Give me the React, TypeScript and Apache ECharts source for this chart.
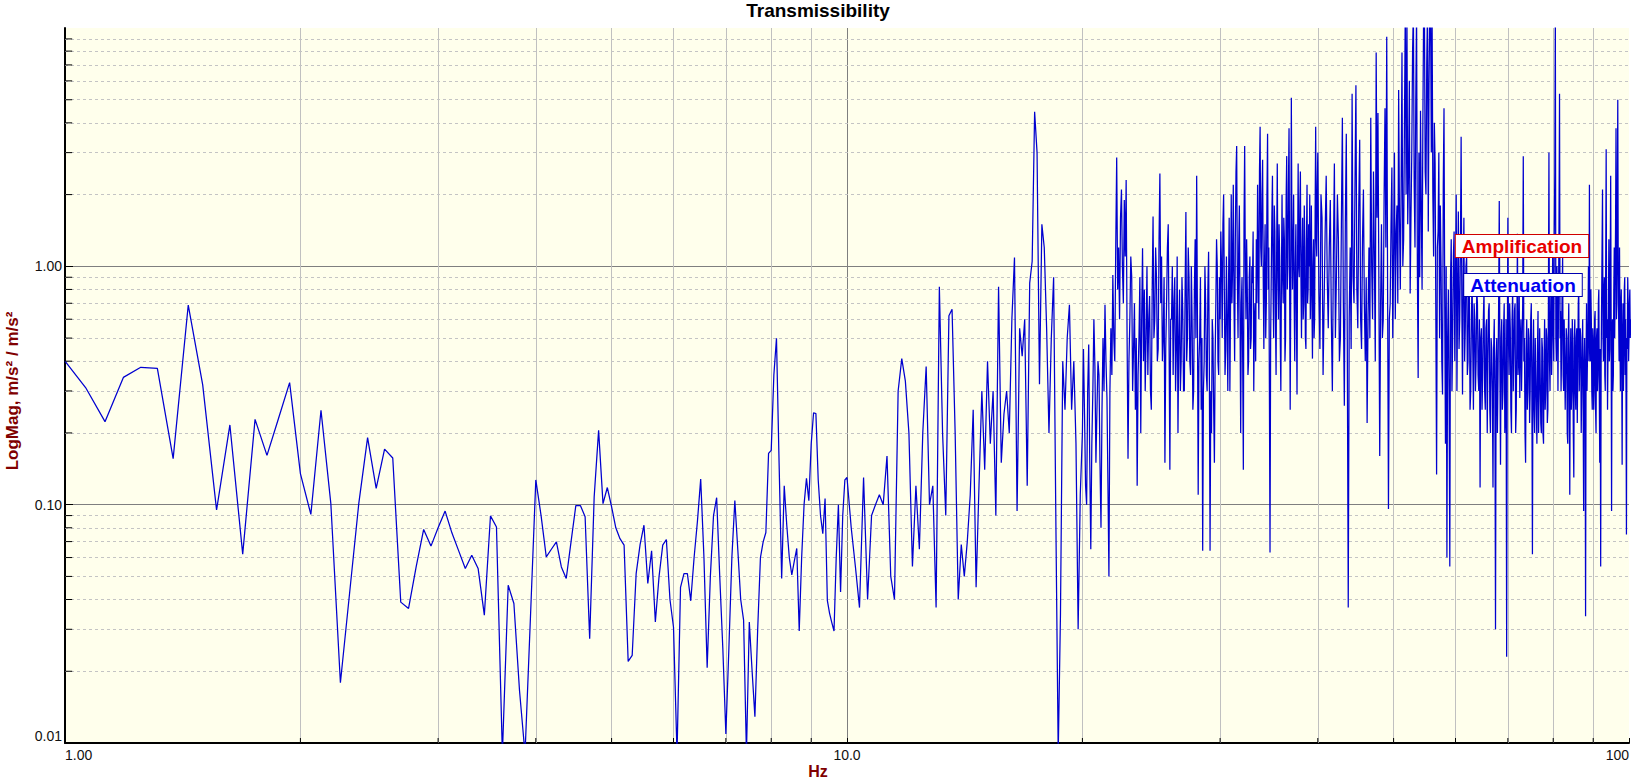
import React, { useEffect, useRef } from 'react';
import * as echarts from 'echarts';

// Spectrum bins: 1–10 Hz at 1/16 Hz resolution
const LOW_START_HZ = 1;
const LOW_STEP_HZ = 0.0625;
const magLow = [
  0.40, 0.31, 0.223, 0.342, 0.377, 0.373, 0.156, 0.688, 0.318, 0.095, 0.216, 0.062, 0.228, 0.161, 0.23, 0.325,
  0.135, 0.091, 0.249, 0.101, 0.0179, 0.043, 0.101, 0.191, 0.117, 0.171, 0.157, 0.039, 0.0367, 0.055, 0.0787, 0.067,
  0.08, 0.094, 0.076, 0.064, 0.054, 0.0614, 0.054, 0.0344, 0.0897, 0.0806, 0.009, 0.0459, 0.0385, 0.0166, 0.009, 0.0338,
  0.127, 0.09, 0.0604, 0.065, 0.0698, 0.0548, 0.049, 0.07, 0.099, 0.099, 0.089, 0.0274, 0.108, 0.205, 0.101, 0.118,
  0.098, 0.08, 0.072, 0.0676, 0.022, 0.0233, 0.0514, 0.068, 0.082, 0.0467, 0.0641, 0.0322, 0.05, 0.0676, 0.0714, 0.04,
  0.0306, 0.009, 0.045, 0.0514, 0.0514, 0.0395, 0.06, 0.085, 0.128, 0.06, 0.0207, 0.05, 0.09, 0.107, 0.05, 0.025,
  0.0109, 0.025, 0.06, 0.104, 0.065, 0.04, 0.0328, 0.009, 0.0322, 0.02, 0.0129, 0.03, 0.06, 0.0698, 0.0764, 0.164,
  0.169, 0.35, 0.499, 0.15, 0.049, 0.12, 0.082, 0.06, 0.0507, 0.058, 0.0655, 0.0295, 0.06, 0.1, 0.129, 0.104,
  0.18, 0.243, 0.241, 0.127, 0.09, 0.0756, 0.106, 0.0397, 0.035, 0.032, 0.0295, 0.06, 0.1, 0.043, 0.09, 0.127,
];

// 10–20 Hz at 1/8 Hz
const MID_START_HZ = 10;
const MID_STEP_HZ = 0.125;
const magMid = [
  0.13, 0.08, 0.055, 0.037, 0.13, 0.04, 0.09, 0.1,
  0.11, 0.1, 0.16, 0.05, 0.04, 0.3, 0.41, 0.33,
  0.2, 0.055, 0.12, 0.065, 0.2, 0.38, 0.1, 0.12,
  0.037, 0.82, 0.2, 0.09, 0.62, 0.66, 0.2, 0.04,
  0.068, 0.05, 0.07, 0.11, 0.25, 0.045, 0.12, 0.3,
  0.14, 0.4, 0.18, 0.3, 0.09, 0.82, 0.15, 0.24,
  0.3, 0.2, 0.6, 1.09, 0.094, 0.55, 0.42, 0.6,
  0.12, 0.85, 1.05, 4.45, 3.0, 0.32, 1.5, 1.2,
  0.55, 0.2, 0.5, 0.9, 0.08, 0.009, 0.035, 0.4,
  0.25, 0.5, 0.69, 0.25, 0.4, 0.18, 0.03, 0.11,
];

// 20–40 Hz at 1/16 Hz
const UPPER_START_HZ = 20;
const UPPER_STEP_HZ = 0.0625;
const magUpper = [
  0.2, 0.45, 0.24, 0.12, 0.1, 0.3, 0.47, 0.15, 0.065, 0.18, 0.3, 0.6, 0.38, 0.15, 0.25, 0.4,
  0.35, 0.15, 0.08, 0.25, 0.5, 0.3, 0.69, 0.4, 0.28, 0.12, 0.05, 0.3, 0.55, 0.35, 0.92, 0.5,
  0.4, 1.2, 2.86, 0.8, 1.2, 0.6, 1.6, 2.1, 1.0, 0.7, 1.9, 1.1, 2.3, 0.5, 0.156, 0.4,
  0.6, 1.1, 0.9, 0.3, 0.45, 0.7, 0.25, 0.5, 0.12, 0.35, 0.5, 0.9, 0.2, 0.6, 1.19, 0.4,
  0.8, 0.3, 0.5, 1.0, 0.35, 0.6, 0.75, 0.3, 0.25, 0.8, 1.62, 0.5, 0.6, 1.2, 0.9, 0.4,
  0.45, 1.3, 2.45, 0.7, 1.1, 0.4, 0.5, 0.9, 0.15, 0.45, 0.7, 1.2, 1.5, 0.5, 0.14, 0.6,
  0.6, 1.0, 0.35, 0.7, 0.9, 0.3, 0.45, 1.1, 0.2, 0.5, 0.8, 0.3, 0.4, 0.9, 0.65, 0.3,
  0.3, 0.8, 1.69, 0.4, 0.5, 1.2, 0.9, 0.4, 0.35, 1.0, 0.6, 0.25, 0.3, 0.8, 1.3, 0.5,
  2.4, 0.6, 0.11, 0.4, 0.5, 0.9, 0.25, 0.5, 0.064, 0.3, 0.4, 1.0, 0.7, 0.35, 0.3, 0.8,
  1.15, 0.4, 0.064, 0.3, 0.2, 0.6, 0.5, 0.25, 0.15, 0.4, 0.7, 1.3, 1.0, 0.4, 0.35, 0.9,
  0.6, 1.4, 1.0, 0.5, 1.5, 2.0, 0.8, 0.35, 0.45, 1.1, 0.6, 0.3, 0.8, 1.6, 0.3, 0.7,
  2.0, 0.7, 1.0, 2.2, 0.7, 0.4, 1.3, 2.5, 3.2, 0.9, 0.5, 1.2, 1.8, 0.6, 0.2, 0.7,
  0.9, 0.4, 0.14, 1.5, 3.2, 1.0, 0.6, 1.3, 0.8, 0.35, 0.4, 0.9, 1.1, 0.45, 0.5, 1.0,
  0.85, 1.4, 0.3, 0.6, 0.7, 0.4, 1.3, 0.7, 2.2, 1.0, 0.6, 2.5, 3.85, 1.2, 1.0, 2.0,
  2.8, 0.9, 0.45, 1.0, 1.5, 0.5, 0.7, 2.0, 3.6, 0.8, 1.2, 0.3, 0.063, 0.5, 0.9, 1.6,
  2.4, 0.8, 0.5, 1.8, 1.4, 0.6, 0.35, 1.2, 2.7, 0.9, 0.6, 1.5, 1.1, 0.5, 0.3, 0.9,
  2.0, 0.9, 0.7, 1.6, 1.3, 0.4, 0.5, 1.9, 2.9, 0.8, 1.0, 2.2, 3.8, 0.9, 0.25, 0.8,
  5.1, 1.5, 0.8, 1.2, 2.0, 0.7, 0.4, 1.0, 1.5, 0.6, 0.29, 1.1, 2.7, 1.0, 0.9, 1.8,
  2.5, 0.9, 0.5, 1.1, 1.6, 0.6, 0.7, 1.8, 1.2, 0.5, 0.45, 1.3, 2.2, 0.7, 0.8, 1.5,
  1.0, 2.0, 0.6, 0.9, 1.8, 0.7, 0.41, 1.0, 1.3, 0.5, 0.6, 1.7, 3.85, 1.3, 1.1, 2.2,
];

// 40–100.5 Hz at 1/8 Hz
const HIGH_START_HZ = 40;
const HIGH_STEP_HZ = 0.125;
const magHigh = [
  3.0, 0.8, 0.45, 2.0, 1.6, 0.35, 0.7, 1.4,
  2.4, 0.9, 0.55, 1.2, 1.9, 0.6, 0.3, 1.1,
  2.7, 0.5, 0.9, 2.0, 1.3, 0.4, 0.5, 1.5,
  4.2, 0.7, 0.26, 1.5, 3.6, 0.5, 0.037, 0.6,
  1.2, 0.45, 5.3, 0.9, 0.7, 2.2, 5.75, 0.8,
  0.55, 1.8, 3.4, 0.6, 0.45, 1.3, 2.1, 0.7,
  0.4, 0.9, 0.22, 0.6, 1.2, 0.5, 4.2, 1.0,
  0.6, 2.5, 1.1, 0.4, 7.9, 1.6, 4.4, 0.9,
  0.16, 0.7, 1.5, 0.5, 0.6, 2.0, 4.6, 1.2,
  9.2, 0.8, 0.096, 0.6, 0.7, 1.5, 2.6, 0.5,
  1.1, 3.0, 0.6, 1.4, 1.8, 0.7, 5.5, 1.6,
  0.8, 2.2, 7.9, 1.0, 1.3, 4.0, 12, 2.0,
  12, 1.5, 2.5, 6.0, 0.77, 1.6, 3.0, 8.0,
  12, 2.2, 1.2, 5.0, 12, 1.0, 0.34, 3.0,
  0.9, 4.5, 1.7, 0.8, 4.0, 12, 12, 2.5,
  2.0, 7.0, 12, 1.4, 6.0, 12, 12, 3.0,
  12, 2.0, 1.1, 4.0, 2.7, 0.6, 0.134, 1.2,
  1.4, 3.0, 0.5, 1.8, 1.0, 0.4, 0.29, 2.2,
  4.6, 0.7, 0.18, 1.0, 0.06, 0.5, 0.8, 0.3,
  0.055, 0.9, 1.3, 0.3, 0.5, 1.1, 1.4, 0.4,
  0.9, 2.0, 0.3, 0.8, 1.7, 0.45, 0.6, 1.2,
  3.5, 0.7, 0.29, 0.9, 1.6, 0.4, 0.55, 1.0,
  1.1, 0.35, 0.4, 0.9, 0.75, 0.25, 0.3, 0.6,
  0.9, 0.45, 0.25, 0.7, 0.6, 0.3, 0.4, 0.8,
  0.7, 0.35, 0.3, 0.6, 0.118, 0.5, 0.55, 0.25,
  0.35, 0.6, 0.8, 0.3, 0.25, 0.55, 0.6, 0.2,
  0.4, 0.65, 0.7, 0.25, 0.2, 0.5, 0.45, 0.3,
  0.118, 0.45, 0.6, 0.3, 0.03, 0.4, 0.5, 0.2,
  0.35, 0.7, 1.88, 0.4, 0.147, 0.5, 0.6, 0.25,
  0.3, 0.55, 0.7, 0.2, 0.25, 0.6, 0.023, 0.4,
  1.6, 0.5, 0.35, 0.7, 0.55, 0.25, 0.2, 0.6,
  0.8, 0.3, 0.3, 0.65, 0.7, 0.2, 0.25, 0.5,
  1.37, 0.35, 0.4, 0.8, 0.28, 0.5, 0.6, 0.3,
  0.3, 0.7, 2.9, 0.4, 0.5, 0.2, 0.15, 0.45,
  0.6, 0.25, 0.3, 0.55, 0.5, 0.22, 0.3, 0.6,
  0.7, 0.3, 0.062, 0.4, 0.6, 0.25, 0.2, 0.5,
  0.5, 0.25, 0.18, 0.45, 0.65, 0.2, 0.3, 0.55,
  0.55, 0.22, 0.2, 0.5, 0.45, 0.2, 0.18, 0.4,
  0.6, 0.25, 0.3, 0.55, 0.5, 0.22, 0.25, 0.7,
  3.0, 0.4, 0.3, 0.6, 0.9, 0.35, 0.5, 1.2,
  0.6, 0.4, 1.37, 2.5, 12, 0.5, 0.4, 1.0,
  0.7, 0.3, 0.3, 1.5, 5.3, 0.5, 0.65, 0.3,
  0.45, 0.8, 1.1, 0.35, 0.3, 0.6, 0.6, 0.25,
  0.25, 0.55, 0.5, 0.2, 0.18, 0.5, 0.7, 0.3,
  0.11, 0.4, 0.55, 0.25, 0.3, 0.6, 0.45, 0.2,
  0.13, 0.5, 0.6, 0.3, 0.25, 0.5, 0.55, 0.22,
  0.4, 0.7, 0.8, 0.3, 0.3, 0.55, 0.5, 0.2,
  0.2, 0.45, 0.6, 0.25, 0.094, 0.4, 0.5, 0.3,
  0.034, 0.4, 0.7, 0.3, 0.3, 0.6, 1.0, 0.4,
  2.2, 0.5, 0.4, 0.8, 0.6, 0.3, 0.25, 0.55,
  0.5, 0.25, 0.3, 0.6, 0.65, 0.25, 0.2, 0.5,
  0.55, 0.3, 0.35, 0.7, 0.8, 0.3, 0.15, 0.45,
  0.055, 0.4, 0.7, 1.2, 2.1, 0.5, 0.4, 0.8,
  0.9, 0.35, 0.3, 1.1, 3.1, 0.5, 0.6, 0.25,
  0.25, 0.7, 1.3, 0.4, 0.45, 1.0, 2.4, 0.6,
  0.094, 0.5, 0.6, 0.3, 0.35, 0.8, 1.2, 0.5,
  0.5, 1.5, 3.8, 0.6, 0.7, 2.0, 5.0, 1.0,
  0.6, 0.4, 1.2, 0.5, 0.3, 0.7, 0.8, 0.4,
  0.147, 0.5, 0.7, 0.3, 0.45, 0.8, 0.9, 0.35,
  0.6, 0.3, 0.075, 0.5, 0.45, 0.9, 0.7, 0.4,
  0.5, 0.7, 0.8, 0.5, 0.6,
];

const X_MIN = 1;
const X_MAX = 100;
const Y_MIN = 0.01;
const Y_MAX = 10;

const xMinorTicks = [2, 3, 4, 5, 6, 7, 8, 9, 20, 30, 40, 50, 60, 70, 80, 90];
const yMinorTicks = [
  0.02, 0.03, 0.04, 0.05, 0.06, 0.07, 0.08, 0.09,
  0.2, 0.3, 0.4, 0.5, 0.6, 0.7, 0.8, 0.9,
  2, 3, 4, 5, 6, 7, 8, 9,
];
const xTickLabels: Record<string, string> = { '1': '1.00', '10': '10.0', '100': '100' };
const yTickLabels: Record<string, string> = { '0.01': '0.01', '0.1': '0.10', '1': '1.00' };

const TITLE = 'Transmissibility';
const X_NAME = 'Hz';
const Y_NAME = 'LogMag, m/s² / m/s²';
const NOTE_AMP = 'Amplification';
const NOTE_ATT = 'Attenuation';

const FONT = '"Liberation Sans", Arial, Helvetica, sans-serif';

function toPoints(start: number, step: number, vals: number[]) {
  return vals.map((v, i) => [start + i * step, v]);
}

const keyOf = (v: number) => String(Number(v.toPrecision(6)));

export default function App() {
  const ref = useRef<HTMLDivElement>(null);

  useEffect(() => {
    if (!ref.current) return;
    const chart = echarts.init(ref.current, undefined, { renderer: 'svg' });

    const points = [
      ...toPoints(LOW_START_HZ, LOW_STEP_HZ, magLow),
      ...toPoints(MID_START_HZ, MID_STEP_HZ, magMid),
      ...toPoints(UPPER_START_HZ, UPPER_STEP_HZ, magUpper),
      ...toPoints(HIGH_START_HZ, HIGH_STEP_HZ, magHigh),
    ];

    const option: any = {
      animation: false,
      backgroundColor: '#ffffff',
      grid: {
        left: 65,
        right: 7,
        top: 28,
        bottom: 38,
        show: true,
        backgroundColor: '#FFFFEC',
        borderWidth: 0,
        containLabel: false,
      },
      xAxis: {
        type: 'log',
        logBase: 10,
        min: X_MIN,
        max: X_MAX,
        axisLine: { show: true, onZero: false, lineStyle: { color: '#000', width: 2 } },
        axisTick: { show: true, inside: true, length: 5, lineStyle: { color: '#000', width: 1 } },
        axisLabel: {
          formatter: (v: number) => xTickLabels[keyOf(v)] ?? '',
          fontFamily: FONT,
          fontSize: 14,
          color: '#111',
          margin: 5,
          showMinLabel: true,
          showMaxLabel: true,
          alignMinLabel: 'left',
          alignMaxLabel: 'right',
          hideOverlap: false,
        },
        splitLine: {
          show: true,
          showMinLine: false,
          showMaxLine: false,
          lineStyle: { color: '#7f7f7f', width: 1 },
        },
      },
      yAxis: {
        type: 'log',
        logBase: 10,
        min: Y_MIN,
        max: Y_MAX,
        axisLine: { show: true, onZero: false, lineStyle: { color: '#000', width: 2 } },
        axisTick: { show: true, inside: true, length: 8, lineStyle: { color: '#000', width: 1 } },
        axisLabel: {
          formatter: (v: number) => yTickLabels[keyOf(v)] ?? '',
          fontFamily: FONT,
          fontSize: 14,
          color: '#111',
          margin: 3,
          showMinLabel: true,
          showMaxLabel: false,
          verticalAlignMinLabel: 'bottom',
          hideOverlap: false,
        },
        splitLine: {
          show: true,
          showMinLine: false,
          showMaxLine: false,
          lineStyle: { color: '#7f7f7f', width: 1 },
        },
      },
      series: [
        {
          type: 'line',
          data: points,
          symbol: 'none',
          showSymbol: false,
          silent: true,
          clip: true,
          z: 3,
          lineStyle: { color: '#0000D0', width: 1.25 },
          emphasis: { disabled: true },
          markLine: {
            silent: true,
            z: 1,
            animation: false,
            symbol: ['none', 'none'],
            label: { show: false },
            emphasis: { disabled: true },
            data: [
              ...xMinorTicks.map((v) => ({
                xAxis: v,
                lineStyle: { color: '#C0C0C0', type: 'solid', width: 1 },
              })),
              ...yMinorTicks.map((v) => ({
                yAxis: v,
                lineStyle: { color: '#C4C4C4', type: [3, 3], width: 1 },
              })),
            ],
          },
          markPoint: {
            silent: true,
            animation: false,
            label: { show: false },
            emphasis: { disabled: true },
            data: [
              ...xMinorTicks.map((v) => ({
                coord: [v, Y_MIN * 1.001],
                symbol: 'rect',
                symbolSize: [1, 5],
                symbolOffset: [0, -2.5],
                itemStyle: { color: '#000' },
              })),
              ...yMinorTicks.map((v) => ({
                coord: [X_MIN * 1.0005, v],
                symbol: 'rect',
                symbolSize: [7, 1],
                symbolOffset: [3.5, 0],
                itemStyle: { color: '#000' },
              })),
            ],
          },
        },
      ],
      graphic: [
        {
          type: 'text',
          x: 818,
          y: 10,
          silent: true,
          style: {
            text: TITLE,
            font: `bold 19px ${FONT}`,
            fill: '#000',
            align: 'center',
            verticalAlign: 'middle',
            textAlign: 'center',
            textVerticalAlign: 'middle',
          },
        },
        {
          type: 'text',
          x: 818,
          y: 771,
          silent: true,
          style: {
            text: X_NAME,
            font: `bold 16px ${FONT}`,
            fill: '#800000',
            align: 'center',
            verticalAlign: 'middle',
            textAlign: 'center',
            textVerticalAlign: 'middle',
          },
        },
        {
          type: 'text',
          x: 12,
          y: 391,
          rotation: Math.PI / 2,
          silent: true,
          style: {
            text: Y_NAME,
            font: `bold 17px ${FONT}`,
            fill: '#800000',
            align: 'center',
            verticalAlign: 'middle',
            textAlign: 'center',
            textVerticalAlign: 'middle',
          },
        },
        {
          type: 'text',
          x: 1522,
          y: 246,
          z: 10,
          silent: true,
          style: {
            text: NOTE_AMP,
            font: `bold 19px ${FONT}`,
            fill: '#E80000',
            backgroundColor: '#ffffff',
            borderColor: '#D00000',
            borderWidth: 1,
            padding: [2, 6, 1, 6],
            align: 'center',
            verticalAlign: 'middle',
            textAlign: 'center',
            textVerticalAlign: 'middle',
          },
        },
        {
          type: 'text',
          x: 1523,
          y: 285,
          z: 10,
          silent: true,
          style: {
            text: NOTE_ATT,
            font: `bold 19px ${FONT}`,
            fill: '#0000F0',
            backgroundColor: '#ffffff',
            borderColor: '#0000B0',
            borderWidth: 1,
            padding: [2, 6, 1, 6],
            align: 'center',
            verticalAlign: 'middle',
            textAlign: 'center',
            textVerticalAlign: 'middle',
          },
        },
      ],
    };

    chart.setOption(option);
    return () => {
      chart.dispose();
    };
  }, []);

  return (
    <div
      ref={ref}
      style={{ position: 'fixed', left: 0, top: 0, width: 1636, height: 781, background: '#fff' }}
    />
  );
}
